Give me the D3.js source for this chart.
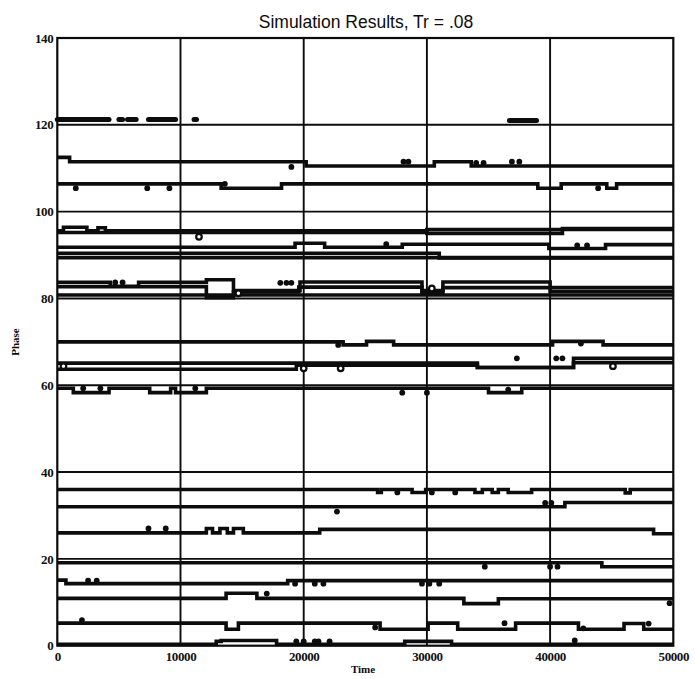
<!DOCTYPE html>
<html>
<head>
<meta charset="utf-8">
<script src="https://cdn.jsdelivr.net/npm/d3@7"></script>
<style>
  body { margin: 0; background: #fff; }
  .tick text { font-family: "Liberation Serif", serif; font-weight: bold; font-size: 13px; fill: #111; letter-spacing: -0.4px; }
</style>
</head>
<body>
<div id="chart"></div>
<script>
    // axis ticks
    var xTicks = [0, 10000, 20000, 30000, 40000, 50000];
    var yTicks = [0, 20, 40, 60, 80, 100, 120, 140];

    // step traces, [time, phase] change points (value holds until next point)
    var tr111 = [[0, 112.5], [1000, 111.5], [20200, 110.5], [30600, 111.5], [33600, 110.5], [50000, 110.5]];
    var tr106 = [[0, 106.4], [13300, 105.4], [18200, 106.4], [39000, 105.4], [40900, 106.4], [44600, 105.4], [45400, 106.4], [50000, 106.4]];
    var tr96 = [[0, 95.6], [500, 96.4], [2400, 95.6], [3300, 96.3], [3900, 95.6], [30000, 95.9], [50000, 95.9]];
    var tr95 = [[0, 95.2], [30000, 95.0], [41000, 96.1], [50000, 96.1]];
    var tr92 = [[0, 91.8], [19300, 92.7], [21700, 91.8], [28000, 92.5], [39900, 91.5], [44500, 92.4], [50000, 92.4]];
    var tr90 = [[0, 90.4], [31000, 89.3], [50000, 89.3]];
    var tr89 = [[0, 89.4], [50000, 89.4]];
    var tr84 = [[0, 83.7], [4300, 82.8], [6600, 83.7], [12100, 84.3], [14300, 81.8], [19700, 83.8], [29600, 81.8], [31300, 83.8], [40000, 82.5], [50000, 82.5]];
    var tr83 = [[0, 82.7], [12100, 80.2], [14300, 81.5], [19600, 82.6], [29600, 81.3], [31300, 82.5], [40000, 81.6], [50000, 81.6]];
    var tr81 = [[0, 80.8], [50000, 80.8]];
    var tr70 = [[0, 70.0], [23200, 69.3], [25100, 70.1], [27300, 69.3], [40200, 70.1], [44300, 69.3], [50000, 69.3]];
    var tr65 = [[0, 65.1], [34100, 64.1], [41900, 66.2], [50000, 66.2]];
    var tr64 = [[0, 63.7], [19400, 64.6], [34100, 64.1], [41900, 65.2], [50000, 65.2]];
    var tr59 = [[0, 59.3], [1300, 58.3], [4200, 59.3], [7500, 58.3], [9200, 59.3], [9600, 58.3], [12100, 59.3], [35000, 58.3], [37700, 59.3], [50000, 59.3]];
    var tr36 = [[0, 36], [26000, 35.3], [26300, 36], [28800, 35.3], [29900, 36], [33900, 35.3], [34500, 36], [35300, 35.3], [35800, 36], [36600, 35.3], [38500, 36], [46100, 35.2], [46500, 36], [50000, 36]];
    var tr32 = [[0, 32.0], [41200, 33.0], [50000, 33.0]];
    var tr26 = [[0, 26.0], [12100, 27.0], [12600, 26.0], [13200, 27.0], [13800, 26.0], [14300, 27.0], [15100, 26.0], [21300, 26.8], [48400, 25.8], [50000, 25.8]];
    var tr19 = [[0, 19.1], [44200, 18.2], [50000, 18.2]];
    var tr15 = [[0, 15.1], [700, 14.3], [18700, 15.0], [50000, 15.0]];
    var tr11 = [[0, 10.9], [13700, 12.1], [16200, 10.9], [33000, 9.7], [35800, 10.8], [50000, 10.8]];
    var tr5 = [[0, 5.2], [13700, 3.8], [14700, 5.2], [26200, 3.8], [30100, 5.2], [32500, 3.8], [37200, 5.2], [42300, 3.8], [46000, 5.1], [47600, 3.8], [50000, 3.8]];
    var tr0 = [[0, 0.3], [12900, 1.0], [13300, 1.2], [17800, 0.3], [28200, 1.0], [32000, 0.3], [50000, 0.3]];

    // broken trace near 121: [start, end, phase]
    var seg121 = [[0, 4200, 121.2], [5000, 5300, 121.2], [5700, 6400, 121.2], [7400, 9600, 121.2], [11100, 11300, 121.2], [36700, 38900, 121.0]];

    // isolated points off the traces, [time, phase]
    var dotsUpper = [[19000, 110.3], [28100, 111.5], [28500, 111.5], [34000, 111.2], [34600, 111.2], [36900, 111.5], [37500, 111.5],
        [1500, 105.4], [7300, 105.4], [9100, 105.4], [13600, 106.4], [43900, 105.4], [26700, 92.5], [42200, 92.2], [43000, 92.2]];
    var dotsMiddle = [[4700, 83.7], [5300, 83.7], [18100, 83.6], [18600, 83.6], [19000, 83.6], [22800, 69.3], [42500, 69.6],
        [37300, 66.2], [40500, 66.2], [41000, 66.2], [2100, 59.3], [3500, 59.3], [11200, 59.3], [28000, 58.3], [30000, 58.3], [36600, 59.0]];
    var dotsLower = [[27600, 35.3], [30400, 35.3], [32300, 35.3], [22700, 30.9], [39600, 32.9], [40100, 32.9], [7400, 27], [8800, 27],
        [34700, 18.2], [40000, 18.2], [40600, 18.2], [2500, 15], [3200, 15], [19300, 14.3], [20900, 14.3], [21600, 14.3],
        [29600, 14.3], [30200, 14.3], [31000, 14.3], [17000, 12.0], [49700, 9.8], [2000, 5.9], [25800, 4.2], [36300, 5.2],
        [42700, 4.0], [48000, 5.1], [19400, 1.0], [20000, 1.0], [20900, 1.0], [21200, 1.0], [22100, 1.0], [42000, 1.2]];
    var hollowDots = [[11500, 94.2], [500, 64.4], [20000, 63.9], [23000, 63.9], [45100, 64.4], [14700, 81.2], [30400, 82.3]];

    var traces = [tr111, tr106, tr96, tr95, tr92, tr90, tr89, tr84, tr83, tr81, tr70, tr65, tr64, tr59,
        tr36, tr32, tr26, tr19, tr15, tr11, tr5, tr0];

    var width = 695, height = 679;
    var ink = "#0c0c0c";

    var svg = d3.select("#chart").append("svg")
        .attr("width", width)
        .attr("height", height);

    var x = d3.scaleLinear().domain([0, 50000]).range([57.3, 673.3]);
    var y = d3.scaleLinear().domain([0, 140]).range([645.7, 38]);

    // grid
    svg.append("g").selectAll("line.h")
        .data(yTicks.slice(1, -1))
        .enter().append("line")
        .attr("x1", x(0)).attr("x2", x(50000))
        .attr("y1", function (d) { return y(d); })
        .attr("y2", function (d) { return y(d); })
        .style("stroke", ink).style("stroke-width", 1.9);

    svg.append("g").selectAll("line.v")
        .data(xTicks.slice(1, -1))
        .enter().append("line")
        .attr("y1", y(0)).attr("y2", y(140))
        .attr("x1", function (d) { return x(d); })
        .attr("x2", function (d) { return x(d); })
        .style("stroke", ink).style("stroke-width", 1.9);

    // traces
    var stepLine = d3.line()
        .x(function (d) { return x(d[0]); })
        .y(function (d) { return y(d[1]); })
        .curve(d3.curveStepAfter);

    svg.append("g").selectAll("path")
        .data(traces)
        .enter().append("path")
        .attr("d", stepLine)
        .style("fill", "none")
        .style("stroke", ink)
        .style("stroke-width", 3.6);

    svg.append("g").selectAll("line")
        .data(seg121)
        .enter().append("line")
        .attr("x1", function (d) { return x(d[0]); })
        .attr("x2", function (d) { return x(d[1]); })
        .attr("y1", function (d) { return y(d[2]); })
        .attr("y2", function (d) { return y(d[2]); })
        .style("stroke", ink)
        .style("stroke-width", 5)
        .style("stroke-linecap", "round");

    svg.append("g").selectAll("circle")
        .data(dotsUpper.concat(dotsMiddle, dotsLower))
        .enter().append("circle")
        .attr("cx", function (d) { return x(d[0]); })
        .attr("cy", function (d) { return y(d[1]); })
        .attr("r", 2.9)
        .style("fill", ink);

    svg.append("g").selectAll("circle")
        .data(hollowDots)
        .enter().append("circle")
        .attr("cx", function (d) { return x(d[0]); })
        .attr("cy", function (d) { return y(d[1]); })
        .attr("r", 2.8)
        .style("fill", "#fff")
        .style("stroke", ink)
        .style("stroke-width", 2.2);

    // frame
    svg.append("rect")
        .attr("x", x(0)).attr("y", y(140))
        .attr("width", x(50000) - x(0))
        .attr("height", y(0) - y(140))
        .style("fill", "none")
        .style("stroke", ink)
        .style("stroke-width", 2.2);

    // axes
    var xAxis = svg.append("g")
        .attr("transform", "translate(0," + y(0) + ")")
        .call(d3.axisBottom(x).tickValues(xTicks).tickSize(0).tickPadding(6).tickFormat(d3.format("d")));
    xAxis.select(".domain").remove();

    var yAxis = svg.append("g")
        .attr("transform", "translate(" + x(0) + ",0)")
        .call(d3.axisLeft(y).tickValues(yTicks).tickSize(0).tickPadding(4));
    yAxis.select(".domain").remove();

    // titles
    svg.append("text")
        .attr("x", 366).attr("y", 28)
        .attr("text-anchor", "middle")
        .style("font-family", "'Liberation Sans', Arial, sans-serif")
        .style("font-size", "17.5px")
        .style("fill", ink)
        .text("Simulation Results, Tr = .08");

    svg.append("text")
        .attr("x", 363).attr("y", 673)
        .attr("text-anchor", "middle")
        .style("font-family", "'Liberation Serif', serif")
        .style("font-weight", "bold")
        .style("font-size", "11px")
        .style("fill", ink)
        .text("Time");

    svg.append("text")
        .attr("transform", "translate(19,342) rotate(-90)")
        .attr("text-anchor", "middle")
        .style("font-family", "'Liberation Serif', serif")
        .style("font-weight", "bold")
        .style("font-size", "11px")
        .style("fill", ink)
        .text("Phase");
</script>
</body>
</html>
